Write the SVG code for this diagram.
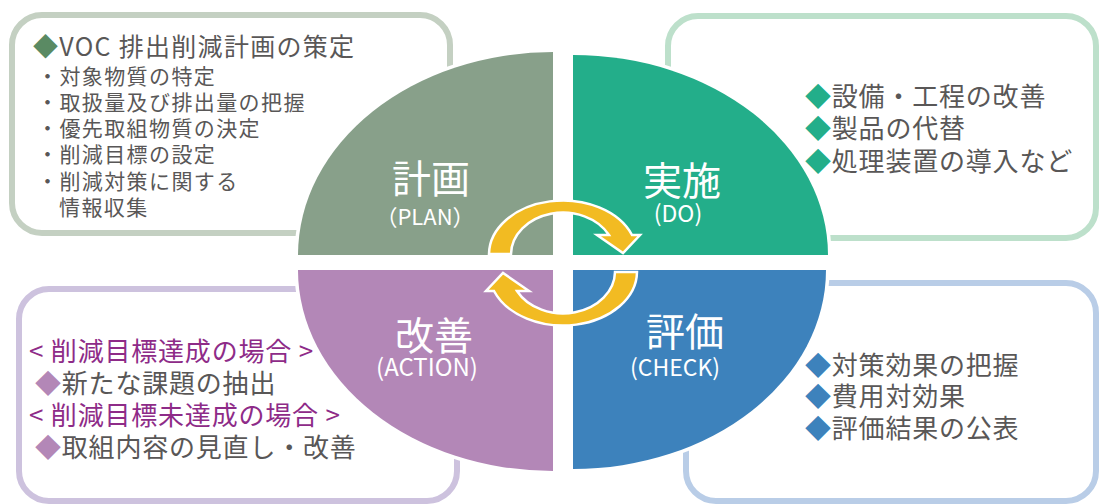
<svg xmlns="http://www.w3.org/2000/svg" width="1099" height="504" viewBox="0 0 1099 504">
<defs>
<style>
.t{font-family:"Noto Sans CJK JP","Noto Sans",sans-serif;fill:#595757;}
.box{fill:none;stroke-width:6;}
.lbl{font-family:"Noto Sans CJK JP","Noto Sans",sans-serif;fill:#ffffff;text-anchor:middle;}
.q{stroke:#ffffff;stroke-width:7;paint-order:stroke;}
.arw{fill:#f2bb22;stroke:#ffffff;stroke-width:2.5;}
.it{font-size:21px;letter-spacing:1.4px;}
.rt{font-size:26px;letter-spacing:0.8px;}
.pur{fill:#8e2b88;}
</style>
<path id="arrow" d="M489,254 A74,54 0 0 1 632,235 L640,235 L623,253 L597,235 L609,235 A52,42 0 0 0 511,254 Z"/>
</defs>
<rect width="1099" height="504" fill="#ffffff"/>

<g id="box-plan">
<rect class="box" x="12" y="15" width="438" height="218" rx="30" stroke="#c4d0c2"/>
<text class="t" x="33" y="56" font-size="25" letter-spacing="1.3"><tspan fill="#5a8a63">◆</tspan>VOC 排出削減計画の策定</text>
<text class="t it" x="37" y="84">・対象物質の特定</text>
<text class="t it" x="37" y="110">・取扱量及び排出量の把握</text>
<text class="t it" x="37" y="136">・優先取組物質の決定</text>
<text class="t it" x="37" y="162">・削減目標の設定</text>
<text class="t it" x="37" y="189">・削減対策に関する</text>
<text class="t it" x="59" y="215">情報収集</text>
</g>

<g id="box-do">
<rect class="box" x="668" y="16" width="428" height="222" rx="30" stroke="#bde0cb"/>
<text class="t rt" x="805" y="106"><tspan fill="#23ae8a">◆</tspan>設備・工程の改善</text>
<text class="t rt" x="805" y="138"><tspan fill="#23ae8a">◆</tspan>製品の代替</text>
<text class="t rt" x="805" y="171"><tspan fill="#23ae8a">◆</tspan>処理装置の導入など</text>
</g>

<g id="box-action">
<rect class="box" x="19" y="289" width="438" height="212" rx="30" stroke="#cdc2de"/>
<text class="t rt pur" x="29" y="361">&lt; 削減目標達成の場合 &gt;</text>
<text class="t rt" x="35" y="393"><tspan fill="#b387b7">◆</tspan>新たな課題の抽出</text>
<text class="t rt pur" x="29" y="425">&lt; 削減目標未達成の場合 &gt;</text>
<text class="t rt" x="35" y="457"><tspan fill="#b387b7">◆</tspan>取組内容の見直し・改善</text>
</g>

<g id="box-check">
<rect class="box" x="686" y="283" width="410" height="218" rx="30" stroke="#b9cde7"/>
<text class="t rt" x="805" y="375"><tspan fill="#3d82bc">◆</tspan>対策効果の把握</text>
<text class="t rt" x="805" y="406"><tspan fill="#3d82bc">◆</tspan>費用対効果</text>
<text class="t rt" x="805" y="438"><tspan fill="#3d82bc">◆</tspan>評価結果の公表</text>
</g>

<g id="plan">
<path class="q" d="M553,255 V52 A255,203 0 0 0 298,255 Z" fill="#88a08a"/>
<text class="lbl" x="431" y="193" font-size="39">計画</text>
<text class="lbl" x="425" y="225" font-size="22">（PLAN）</text>
</g>
<g id="do">
<path class="q" d="M573,255 V55 A255,200 0 0 1 828,255 Z" fill="#23ae8a"/>
<text class="lbl" x="682" y="195" font-size="39">実施</text>
<text class="lbl" x="678" y="222" font-size="23">(DO)</text>
</g>
<g id="check">
<path class="q" d="M573,270 H826 A253,199 0 0 1 573,469 Z" fill="#3d82bc"/>
<text class="lbl" x="685" y="346" font-size="39">評価</text>
<text class="lbl" x="675" y="376" font-size="23">(CHECK)</text>
</g>
<g id="action">
<path class="q" d="M553,270 V471 A255,201 0 0 1 298,270 Z" fill="#b387b7"/>
<text class="lbl" x="434" y="350" font-size="39">改善</text>
<text class="lbl" x="427" y="376" font-size="24">(ACTION)</text>
</g>

<g id="connectors">
<use href="#arrow" class="arw"/>
<use href="#arrow" class="arw" transform="rotate(180 563 263)"/>
</g>
</svg>
